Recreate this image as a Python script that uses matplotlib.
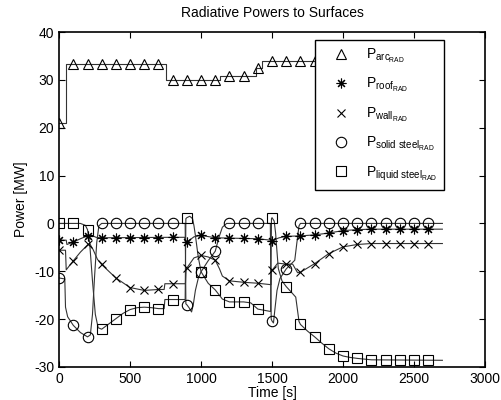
import numpy as np
import matplotlib
matplotlib.use("Agg")
import matplotlib.pyplot as plt
from matplotlib.lines import Line2D

plt.rcParams['font.family'] = ['Liberation Sans', 'DejaVu Sans']
plt.rcParams['mathtext.fontset'] = 'custom'
plt.rcParams['mathtext.rm'] = 'Liberation Sans'
plt.rcParams['mathtext.it'] = 'Liberation Sans'
plt.rcParams['axes.unicode_minus'] = False

# marker times (s)
mark_t = np.arange(0, 2700, 100)

# ---- arc (step) ----
arc_t = [0, 50, 750, 1130, 1390, 1430, 2700]
arc_v = [20.9, 33.3, 30.0, 30.8, 32.4, 34.0, 34.0]
arc_m = [20.9, 33.3, 33.3, 33.3, 33.3, 33.3, 33.3, 33.3, 30.0, 30.0, 30.0, 30.0,
         30.8, 30.8, 32.4, 34.0, 34.0, 34.0, 34.0, 34.0, 34.0, 34.0, 34.0, 34.0,
         34.0, 34.0, 34.0]

# ---- roof ----
roof_t = [0, 50, 55, 100, 150, 200, 230, 260, 300, 800, 885, 890, 900, 950, 1000,
          1100, 1400, 1490, 1500, 1550, 1600, 1700, 1800, 1900, 2000, 2100, 2200, 2700]
roof_v = [-3.5, -3.5, -4.4, -3.9, -3.2, -2.6, -2.5, -2.9, -3.0, -2.9, -2.9, -3.9,
          -3.9, -2.8, -2.5, -3.0, -3.2, -3.5, -3.6, -3.0, -2.7, -2.6, -2.4, -2.0,
          -1.5, -1.3, -1.2, -1.2]
roof_m = [-3.5, -3.9, -2.6, -3.0, -3.0, -3.0, -3.0, -3.0, -2.9, -3.9, -2.5, -3.0,
          -3.0, -3.0, -3.2, -3.6, -2.7, -2.6, -2.4, -2.0, -1.5, -1.3, -1.2, -1.2,
          -1.2, -1.2, -1.2]

# ---- wall ----
wall_t = [0, 45, 50, 100, 150, 200, 215, 240, 270, 300, 400, 500, 600, 700, 740,
          745, 890, 895, 900, 950, 1000, 1050, 1100, 1130, 1150, 1200, 1300, 1400,
          1493, 1496, 1500, 1540, 1600, 1645, 1680, 1700, 1800, 1900, 2000, 2100,
          2200, 2700]
wall_v = [-5.6, -5.6, -9.7, -7.8, -6.0, -4.5, -4.2, -5.5, -7.5, -8.6, -11.4, -13.4,
          -14.0, -13.8, -13.8, -12.6, -12.6, -9.3, -9.3, -7.2, -6.7, -7.0, -7.7,
          -9.5, -11.0, -12.0, -12.3, -12.5, -12.8, -9.8, -9.8, -8.3, -8.5, -8.5,
          -10.3, -10.2, -8.4, -6.3, -4.9, -4.4, -4.2, -4.2]
wall_m = [-5.6, -7.9, -4.4, -8.4, -11.4, -13.4, -14.0, -13.8, -12.6, -9.3, -6.7,
          -7.7, -12.0, -12.3, -12.5, -9.8, -8.5, -10.2, -8.4, -6.3, -4.9, -4.4,
          -4.2, -4.2, -4.2, -4.2, -4.2]

# ---- solid steel ----
sol_t = [0, 40, 45, 60, 100, 150, 200, 220, 235, 250, 265, 280, 300, 888, 893, 900,
         915, 933, 945, 960, 980, 1000, 1050, 1100, 1125, 1150, 1180, 1488, 1494,
         1500, 1510, 1520, 1535, 1556, 1600, 1660, 1675, 1690, 1700, 2700]
sol_v = [-11.4, -11.6, -17.5, -19.5, -21.3, -22.8, -23.7, -23.3, -19.0, -11.0, -4.0,
         -0.5, 0.0, 0.0, -16.8, -17.0, -17.6, -18.5, -17.0, -14.0, -11.5, -10.1,
         -7.8, -5.8, -3.0, -0.8, 0.0, 0.0, -20.0, -20.4, -20.8, -18.0, -14.0, -11.5,
         -9.5, -7.7, -4.0, -0.5, 0.0, 0.0]
sol_m = [-11.4, -21.3, -23.7, 0, 0, 0, 0, 0, 0, -17.0, -10.1, -5.8, 0, 0,
         0, -20.4, -9.5, 0, 0, 0, 0, 0, 0, 0, 0, 0, 0]

# ---- liquid steel ----
liq_t = [0, 150, 185, 200, 215, 235, 255, 275, 300, 350, 400, 450, 500, 550, 600,
         650, 700, 740, 745, 888, 893, 900, 920, 940, 950, 960, 980, 1000, 1050,
         1100, 1150, 1200, 1300, 1350, 1400, 1490, 1496, 1500, 1515, 1525, 1533,
         1544, 1570, 1600, 1640, 1667, 1690, 1700, 1750, 1800, 1850, 1900, 1950,
         2000, 2050, 2100, 2200, 2700]
liq_v = [0, 0, -0.4, -1.3, -4.0, -12.0, -19.0, -21.8, -22.1, -21.0, -19.9, -18.8,
         -18.0, -17.6, -17.5, -17.6, -17.8, -17.8, -15.9, -15.9, 1.0, 1.2, 1.5, 1.0,
         -0.5, -2.5, -7.0, -10.1, -12.5, -13.9, -15.8, -16.4, -16.4, -16.6, -17.9,
         -18.4, 1.0, 1.2, 0.5, -2.0, -5.2, -9.4, -12.0, -13.2, -14.5, -15.4, -20.5,
         -21.1, -22.5, -23.7, -25.0, -26.2, -27.1, -27.7, -28.0, -28.2, -28.5, -28.6]
liq_m = [0, 0, -1.3, -22.1, -19.9, -18.0, -17.5, -17.8, -15.9, 1.2, -10.1, -13.9,
         -16.4, -16.4, -17.9, 1.2, -13.2, -21.1, -23.7, -26.2, -27.7, -28.2, -28.5,
         -28.6, -28.6, -28.6, -28.6]

fig = plt.figure(figsize=(5.01, 4.0), dpi=100)
ax = fig.add_axes([0.118, 0.0825, 0.850, 0.8375])

lc = '#333333'
lw = 0.8
ax.plot(arc_t, arc_v, drawstyle='steps-post', color=lc, lw=lw)
for t, v in [(roof_t, roof_v), (wall_t, wall_v), (sol_t, sol_v), (liq_t, liq_v)]:
    ax.plot(t, v, color=lc, lw=lw)

star = (8, 2, 0)
specs = [
    (arc_m, '^', 7.5, r'P$_{\mathrm{arc}_{\mathrm{RAD}}}$'),
    (roof_m, star, 7, r'P$_{\mathrm{roof}_{\mathrm{RAD}}}$'),
    (wall_m, 'x', 5.5, r'P$_{\mathrm{wall}_{\mathrm{RAD}}}$'),
    (sol_m, 'o', 7.5, r'P$_{\mathrm{solid\ steel}_{\mathrm{RAD}}}$'),
    (liq_m, 's', 6.5, r'P$_{\mathrm{liquid\ steel}_{\mathrm{RAD}}}$'),
]
handles = []
for vals, mk, ms, lab in specs:
    ax.plot(mark_t, vals, linestyle='none', marker=mk, ms=ms, mfc='none',
            mec='black', mew=0.8)
    handles.append(Line2D([], [], linestyle='none', marker=mk, ms=ms, mfc='none',
                          mec='black', mew=0.8, label=lab))

ax.set_xlim(0, 3000)
ax.set_ylim(-30, 40)
ax.set_xticks(np.arange(0, 3001, 500))
ax.set_yticks(np.arange(-30, 41, 10))
ax.tick_params(direction='in', top=True, right=True, labelsize=10, length=4,
               width=0.8)
for s in ax.spines.values():
    s.set_linewidth(1.2)
ax.set_xlabel('Time [s]', fontsize=10, labelpad=0)
ax.set_ylabel('Power [MW]', fontsize=10, labelpad=4)
ax.set_title('Radiative Powers to Surfaces', fontsize=10, pad=11)

leg = ax.legend(handles=handles, loc='upper right', bbox_to_anchor=(0.904, 0.976),
                borderaxespad=0, fontsize=10, frameon=True, fancybox=False,
                labelspacing=0.81, handlelength=2.7, handletextpad=0.47,
                borderpad=0.5)
leg.get_frame().set_edgecolor('black')
leg.get_frame().set_linewidth(1.0)
leg.get_frame().set_alpha(1)

fig.savefig('out.png', dpi=100)
